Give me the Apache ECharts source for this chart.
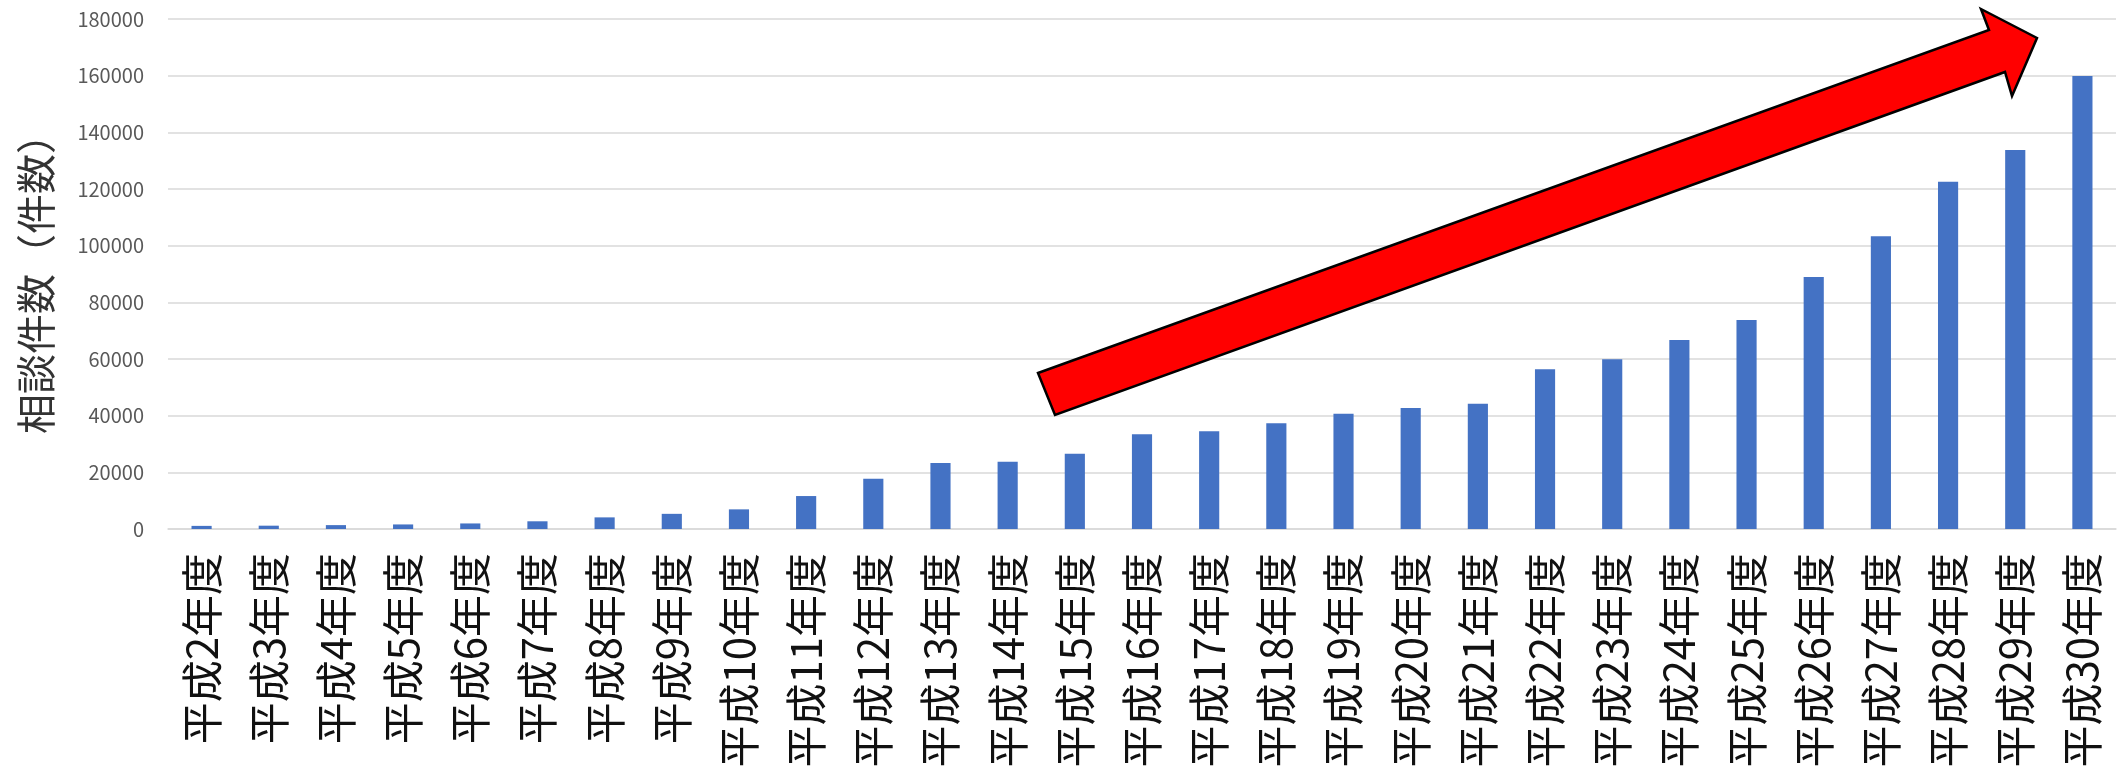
<!DOCTYPE html>
<html><head><meta charset="utf-8">
<script src="https://cdn.jsdelivr.net/npm/echarts@6/dist/echarts.min.js"></script>
<style>html,body{margin:0;padding:0;background:#fff}#c{width:2127px;height:774px}</style>
</head><body><div id="c"></div>
<script>
const categories = ['平成2年度','平成3年度','平成4年度','平成5年度','平成6年度','平成7年度','平成8年度','平成9年度','平成10年度','平成11年度','平成12年度','平成13年度','平成14年度','平成15年度','平成16年度','平成17年度','平成18年度','平成19年度','平成20年度','平成21年度','平成22年度','平成23年度','平成24年度','平成25年度','平成26年度','平成27年度','平成28年度','平成29年度','平成30年度'];
const counts = [1101,1171,1372,1611,1961,2722,4102,5352,6932,11631,17725,23274,23738,26569,33408,34472,37323,40639,42664,44211,56384,59919,66701,73802,88931,103286,122575,133778,159850];
const yName = '相談件数（件数）';

const chart = echarts.init(document.getElementById('c'));
const font = '"Noto Sans CJK JP", "Noto Sans", sans-serif';
chart.setOption({
  animation: false,
  grid: { left: 168, right: 11, top: 19, bottom: 245 },
  xAxis: {
    type: 'category', data: categories,
    axisLine: { lineStyle: { color: '#d9d9d9', width: 1.5 } },
    axisTick: { show: false },
    axisLabel: { rotate: 90, fontSize: 42, color: '#111', fontFamily: font, margin: 24, interval: 0 }
  },
  yAxis: {
    type: 'value', min: 0, max: 180000, interval: 20000,
    name: yName, nameLocation: 'middle', nameGap: 112, nameRotate: 90,
    nameTextStyle: { fontSize: 40, color: '#333', fontFamily: font },
    axisLine: { show: false }, axisTick: { show: false },
    axisLabel: { fontSize: 20, color: '#595959', fontFamily: font, margin: 24, formatter: v => String(v) },
    splitLine: { lineStyle: { color: '#d9d9d9', width: 1.5 } }
  },
  series: [{ type: 'bar', data: counts, barWidth: '30%', itemStyle: { color: '#4472C4' } }],
  graphic: [{
    type: 'polygon', z: 100,
    shape: { points: [[1038,373],[1989,30],[1981,9],[2037,38],[2012,96],[2005,72],[1055,415]] },
    style: { fill: '#ff0000', stroke: '#000', lineWidth: 2.5, lineJoin: 'miter' }
  }]
});
</script></body></html>
